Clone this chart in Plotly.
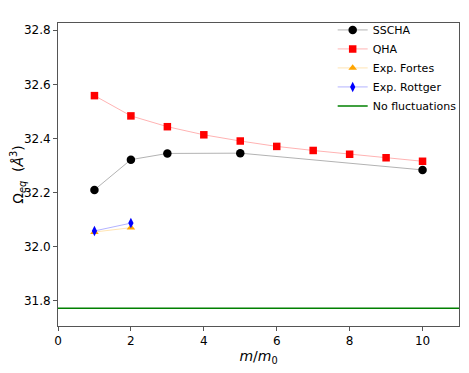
import plotly.graph_objects as go

# mass ratio and equilibrium volumes
sscha_m = [1, 2, 3, 5, 10]
sscha_v = [32.209, 32.321, 32.344, 32.345, 32.283]

qha_m = [1, 2, 3, 4, 5, 6, 7, 8, 9, 10]
qha_v = [32.558, 32.483, 32.443, 32.413, 32.390, 32.370, 32.355, 32.341, 32.328, 32.315]

fortes_m = [1, 2]
fortes_v = [32.053, 32.069]

rottger_m = [1, 2]
rottger_v = [32.057, 32.086]

no_fluct_v = 31.771
x_range = [0, 11]

font = "DejaVu Sans"

fig = go.Figure()

fig.add_trace(go.Scatter(x=sscha_m, y=sscha_v, name="SSCHA", mode="lines+markers",
                         line=dict(color="rgba(0,0,0,0.3)", width=1),
                         marker=dict(color="black", size=8.5, symbol="circle")))
fig.add_trace(go.Scatter(x=qha_m, y=qha_v, name="QHA", mode="lines+markers",
                         line=dict(color="rgba(255,0,0,0.3)", width=1),
                         marker=dict(color="red", size=7.5, symbol="square")))
fig.add_trace(go.Scatter(x=fortes_m, y=fortes_v, name="Exp. Fortes", mode="lines+markers",
                         line=dict(color="rgba(255,165,0,0.3)", width=1),
                         marker=dict(color="orange", size=7.5, symbol="triangle-up")))
fig.add_trace(go.Scatter(x=rottger_m, y=rottger_v, name="Exp. Rottger", mode="lines+markers",
                         line=dict(color="rgba(0,0,255,0.3)", width=1),
                         marker=dict(color="blue", size=7.5, symbol="diamond-tall")))
fig.add_trace(go.Scatter(x=x_range, y=[no_fluct_v, no_fluct_v], name="No fluctuations",
                         mode="lines", line=dict(color="green", width=1.5)))

axis_style = dict(showgrid=False, zeroline=False, showline=True, linecolor="#555",
                  linewidth=1, mirror=True, ticks="outside", ticklen=4, tickcolor="#555",
                  automargin=False,
                  tickfont=dict(family=font, size=12, color="black"))

fig.update_xaxes(range=x_range, dtick=2,
                 title=dict(text="<i>m</i>/<i>m</i><sub>0</sub>", standoff=2,
                            font=dict(family=font, size=14, color="black")),
                 **axis_style)
fig.update_yaxes(range=[31.705, 32.827], dtick=0.2, tickformat=".1f",
                 title=dict(text="Ω<sub><i>eq</i></sub>  (<i>Å</i><sup>3</sup>)", standoff=8,
                            font=dict(family=font, size=14, color="black")),
                 **axis_style)

# page body adds 8px of margin, so the figure is 8px smaller and shifted
fig.update_layout(
    width=461, height=365,
    margin=dict(l=50, r=7, t=11, b=47),
    plot_bgcolor="white", paper_bgcolor="white",
    showlegend=True,
    legend=dict(x=0.685, y=1.025, xanchor="left", yanchor="top",
                bgcolor="rgba(0,0,0,0)", font=dict(family=font, size=11, color="black"),
                tracegroupgap=0, itemwidth=30),
)

fig.write_html("out.html")
